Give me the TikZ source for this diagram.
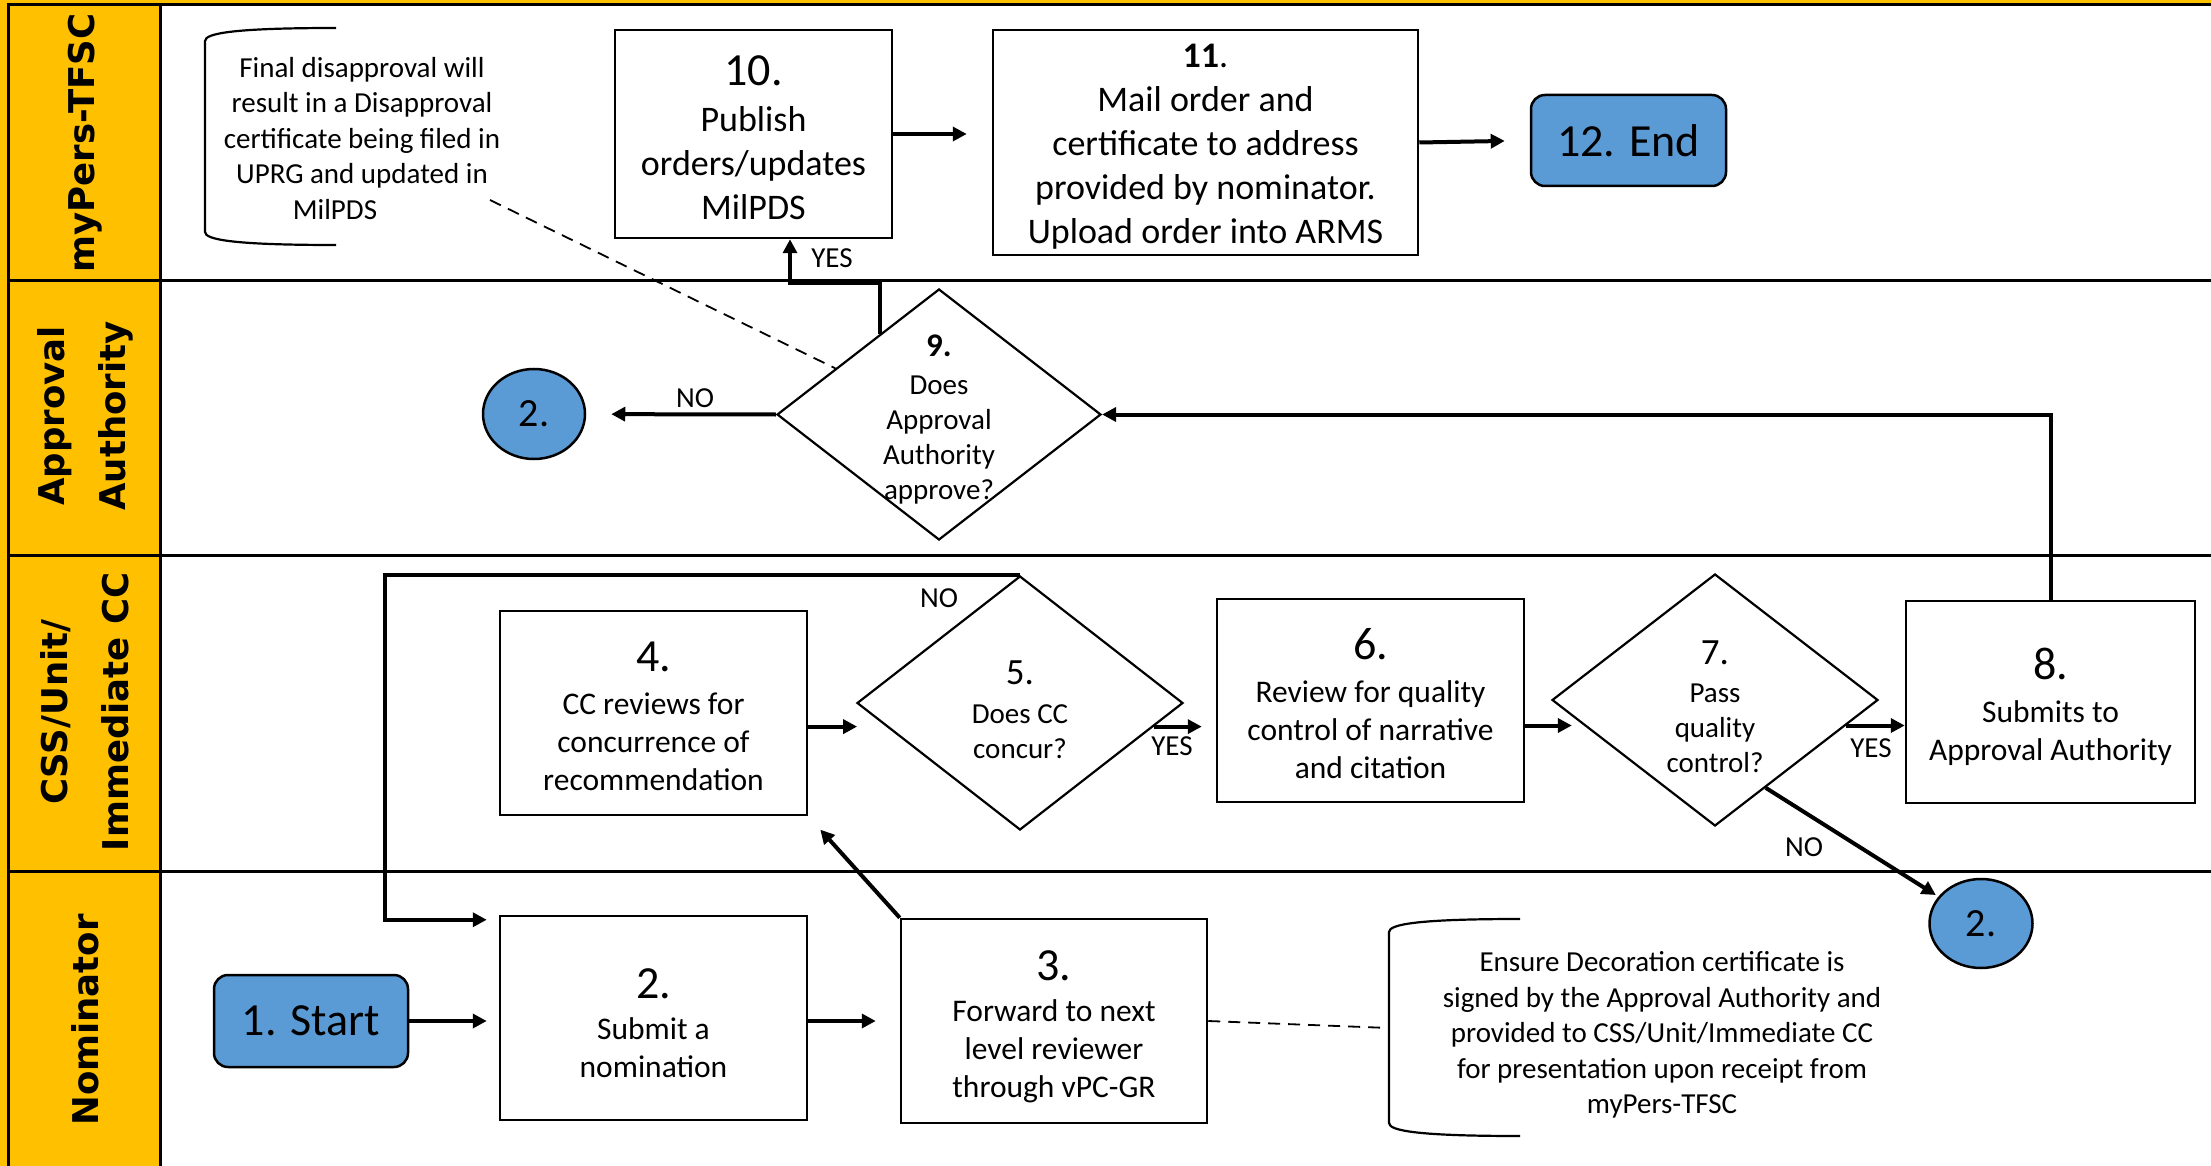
\documentclass[tikz,border=0pt]{standalone}
\usepackage{fontspec}
\setmainfont{Carlito}
\newfontfamily\lanefont{DejaVu Sans}
\usetikzlibrary{arrows.meta,shapes.geometric}
\definecolor{laneyellow}{HTML}{FFC000}
\definecolor{blueshape}{HTML}{5B9BD5}
\newcommand\fz[2]{\fontsize{#1}{#2}\selectfont}
\begin{document}
\begin{tikzpicture}[x=1pt,y=-1pt,
  box/.style={draw, line width=2.5pt, inner sep=0pt},
  boxtext/.style={align=center, font=\fz{31.5}{38}},
  bigtext/.style={align=center, font=\fz{36}{44}},
  dia/.style={draw, diamond, line width=2.2pt, inner sep=0pt},
  diatext/.style={align=center, font=\fz{29}{35}},
  term/.style={draw, line width=2.5pt, fill=blueshape, rounded corners=14pt, inner sep=0pt, font=\fz{46}{46}},
  conn/.style={draw, ellipse, line width=2.5pt, fill=blueshape, inner sep=0pt, font=\fz{40}{40}},
  lane/.style={rotate=90, align=center, font=\lanefont\bfseries\fz{35.5}{61}},
  notetext/.style={align=center, font=\fz{29}{35.5}},
  lbl/.style={font=\fz{29}{35}},
  arr/.style={line width=4pt, -{Triangle[length=14pt,width=14pt]}},
  dashline/.style={line width=1.8pt, dash pattern=on 12pt off 8pt},
  bracket/.style={line width=2.2pt},
  lanerule/.style={line width=3pt}
]
\useasboundingbox (0,0) rectangle (2211,1166);
% lanes
\fill[white] (0,0) rectangle (2211,1166);
\fill[laneyellow] (0,0) rectangle (160,1166);
\fill[laneyellow] (0,0) rectangle (2211,5);
\draw[lanerule] (7,5) -- (2211,5);
\draw[lanerule] (8,5) -- (8,1166);
\draw[lanerule] (160,5) -- (160,1166);
\draw[lanerule] (8,281) -- (2211,281);
\draw[lanerule] (8,555) -- (2211,555);
\draw[lanerule] (8,871) -- (2211,871);
\node[lane] (L1) at (85,143) {myPers-TFSC};
\node[lane] (L2) at (85,416) {Approval\\Authority};
\node[lane] (L3) at (85,712) {CSS/Unit/\\Immediate CC};
\node[lane] (L4) at (85,1020) {Nominator};

% nodes
\node[term, minimum width=194pt, minimum height=92pt] (start) at (311,1021) {1. Start};
\node[box, minimum width=307pt, minimum height=204pt] (b2) at (653.5,1018) {};
\node[boxtext] (b2t) at ([yshift=-5pt]b2.center) {{\fz{46}{46}2.}\\[3pt]Submit a\\nomination};
\node[box, minimum width=306pt, minimum height=204pt] (b3) at (1054,1021) {};
\node[boxtext] (b3t) at ([yshift=-6pt]b3.center) {{\fz{46}{46}3.}\\[3pt]Forward to next\\level reviewer\\through vPC-GR};
\node[box, minimum width=307pt, minimum height=204pt] (b4) at (653.5,713) {};
\node[boxtext] (b4t) at ([yshift=-3pt]b4.center) {{\fz{46}{46}4.}\\[5pt]CC reviews for\\concurrence of\\recommendation};
\node[dia, minimum width=326pt, minimum height=254pt] (d5) at (1020,703) {};
\node[diatext] (t5) at ([yshift=-7pt]d5.center) {{\fz{37}{37}5.}\\[4pt]Does CC\\concur?};
\node[box, minimum width=307pt, minimum height=203pt] (b6) at (1370.5,700.5) {};
\node[boxtext] (b6t) at ([yshift=-3pt]b6.center) {{\fz{46}{46}6.}\\[5pt]Review for quality\\control of narrative\\and citation};
\node[dia, minimum width=326pt, minimum height=252pt] (d7) at (1715,700) {};
\node[diatext] (t7) at ([yshift=-7pt]d7.center) {{\fz{37}{37}7.}\\[3pt]Pass\\quality\\control?};
\node[box, minimum width=289pt, minimum height=202pt] (b8) at (2050.5,702) {};
\node[boxtext] (b8t) at ([yshift=-5pt]b8.center) {{\fz{46}{46}8.}\\[5pt]Submits to\\Approval Authority};
\node[dia, minimum width=324pt, minimum height=251pt] (d9) at (939,414.5) {};
\node[diatext] (t9) at ([yshift=-5.5pt]d9.center) {{\bfseries\fz{33}{33}9.}\\[3pt]Does\\Approval\\Authority\\approve?};
\node[conn, minimum width=102pt, minimum height=90pt] (c2a) at (534,414) {2.};
\node[conn, minimum width=103pt, minimum height=89pt] (c2b) at (1981,923.5) {2.};
\node[box, minimum width=277pt, minimum height=208pt] (b10) at (753.5,134) {};
\node[bigtext] (b10t) at ([yshift=-4pt]b10.center) {{\fz{46}{46}10.}\\[2pt]Publish\\orders/updates\\MilPDS};
\node[box, minimum width=425pt, minimum height=225pt] (b11) at (1205.5,142.5) {};
\node[bigtext] (b11t) at ([yshift=-4pt]b11.center) {{\bfseries 11}.\\Mail order and\\certificate to address\\provided by nominator.\\Upload order into ARMS};
\node[term, minimum width=195pt, minimum height=91pt] (b12) at (1628.5,140.5) {12. End};

% notes
\node[notetext] (n1) at (362,138.5) {Final disapproval will\\result in a Disapproval\\certificate being filed in\\UPRG and updated in\\MilPDS\hspace*{54pt}};
\draw[bracket] (336,28) .. controls (236,28) and (205,33) .. (205,41) -- (205,232) .. controls (205,240) and (236,245) .. (336,245);
\coordinate (n1tip) at (490,200);
\node[notetext] (n2) at (1662,1035) {Ensure Decoration certificate is\\signed by the Approval Authority and\\provided to CSS/Unit/Immediate CC\\for presentation upon receipt from\\myPers-TFSC};
\draw[bracket] (1520,919) .. controls (1420,919) and (1389,924) .. (1389,932) -- (1389,1123) .. controls (1389,1131) and (1420,1136) .. (1520,1136);
\coordinate (n2left) at (1389,1028);

% connectors
\draw[arr, shorten >=12pt] (start.east |- 0,1021) -- (b2.west |- 0,1021);
\draw[arr, shorten >=24pt] (b2.east |- 0,1021) -- (b3.west |- 0,1021);
\draw[arr, shorten >=18pt] (b3.north west) -- (b4.south east);
\draw[arr, shorten >=29pt] (b4.east |- d5.190.8) -- (d5.190.8);
\draw[arr, shorten >=14pt] (d5.-10.3) -- (d5.-10.3 -| b6.west);
\draw[arr, shorten >=12pt] (b6.east |- d7.191.8) -- (d7.191.8);
\draw[arr] (d7.-11.9) -- (d7.-11.9 -| b8.west);
\draw[arr, shorten >=3pt] (d7.-60.9) -- (c2b);
\coordinate (loopx) at (385,0);
\draw[arr, line width=4.5pt, shorten >=12pt] (d5.north) -- (d5.north -| loopx) |- ([yshift=-5pt]b2.north west);
\draw[arr] (b8.north) |- (d9.east);
\draw[arr, shorten >=25pt] (d9.west) -- (c2a);
\coordinate (yesturn) at (790,283);
\draw[arr, line width=3.5pt] (d9.126.6) |- (yesturn) -- (yesturn |- b10.south);
\draw[arr, shorten >=25pt] (b10.east) -- (b10.east -| b11.west);
\draw[arr, shorten >=25pt] (b11.east) -- (b12.west);
\draw[dashline] (n1tip) -- (d9.156.6);
\draw[dashline] (b3.east) -- (n2left);

% labels
\node[lbl] (yes9) at (832,258) {YES};
\node[lbl] (no9) at (695,398) {NO};
\node[lbl] (no5) at (939,598) {NO};
\node[lbl] (yes5) at (1172,746) {YES};
\node[lbl] (yes7) at (1871,748) {YES};
\node[lbl] (no7) at (1804,847) {NO};
\end{tikzpicture}
\end{document}
